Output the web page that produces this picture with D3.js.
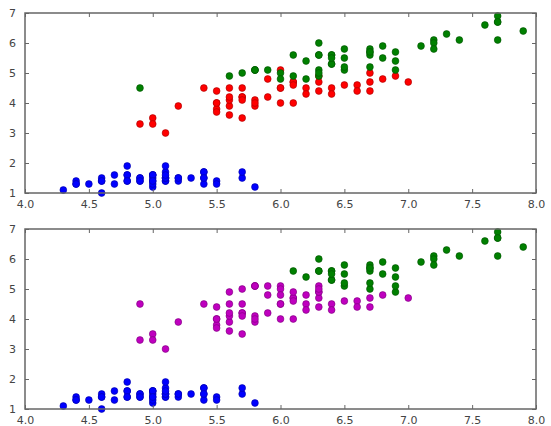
<!DOCTYPE html>
<html>
<head>
<meta charset="utf-8">
<script src="https://cdn.jsdelivr.net/npm/d3@7"></script>
<style>
  body { margin: 0; background: #fff; }
  svg { display: block; }
  .tick text { font-family: "DejaVu Sans", sans-serif; font-size: 11px; fill: #444; }
</style>
</head>
<body>
<svg width="551" height="426"></svg>
<script>
// iris: sepal length (x) vs petal length (y)
const sepalLength = [
  5.1,4.9,4.7,4.6,5.0,5.4,4.6,5.0,4.4,4.9,5.4,4.8,4.8,4.3,5.8,5.7,5.4,5.1,5.7,5.1,
  5.4,5.1,4.6,5.1,4.8,5.0,5.0,5.2,5.2,4.7,4.8,5.4,5.2,5.5,4.9,5.0,5.5,4.9,4.4,5.1,
  5.0,4.5,4.4,5.0,5.1,4.8,5.1,4.6,5.3,5.0,
  7.0,6.4,6.9,5.5,6.5,5.7,6.3,4.9,6.6,5.2,5.0,5.9,6.0,6.1,5.6,6.7,5.6,5.8,6.2,5.6,
  5.9,6.1,6.3,6.1,6.4,6.6,6.8,6.7,6.0,5.7,5.5,5.5,5.8,6.0,5.4,6.0,6.7,6.3,5.6,5.5,
  5.5,6.1,5.8,5.0,5.6,5.7,5.7,6.2,5.1,5.7,
  6.3,5.8,7.1,6.3,6.5,7.6,4.9,7.3,6.7,7.2,6.5,6.4,6.8,5.7,5.8,6.4,6.5,7.7,7.7,6.0,
  6.9,5.6,7.7,6.3,6.7,7.2,6.2,6.1,6.4,7.2,7.4,7.9,6.4,6.3,6.1,7.7,6.3,6.4,6.0,6.9,
  6.7,6.9,5.8,6.8,6.7,6.7,6.3,6.5,6.2,5.9
];
const petalLength = [
  1.4,1.4,1.3,1.5,1.4,1.7,1.4,1.5,1.4,1.5,1.5,1.6,1.4,1.1,1.2,1.5,1.3,1.4,1.7,1.5,
  1.7,1.5,1.0,1.7,1.9,1.6,1.6,1.5,1.4,1.6,1.6,1.5,1.5,1.4,1.5,1.2,1.3,1.4,1.3,1.5,
  1.3,1.3,1.3,1.6,1.9,1.4,1.6,1.4,1.5,1.4,
  4.7,4.5,4.9,4.0,4.6,4.5,4.7,3.3,4.6,3.9,3.5,4.2,4.0,4.7,3.6,4.4,4.5,4.1,4.5,3.9,
  4.8,4.0,4.9,4.7,4.3,4.4,4.8,5.0,4.5,3.5,3.8,3.7,3.9,5.1,4.5,4.5,4.7,4.4,4.1,4.0,
  4.4,4.6,4.0,3.3,4.2,4.2,4.2,4.3,3.0,4.1,
  6.0,5.1,5.9,5.6,5.8,6.6,4.5,6.3,5.8,6.1,5.1,5.3,5.5,5.0,5.1,5.3,5.5,6.7,6.9,5.0,
  5.7,4.9,6.7,4.9,5.7,6.0,4.8,4.9,5.6,5.8,6.1,6.4,5.6,5.1,5.6,6.1,5.6,5.5,4.8,5.4,
  5.6,5.1,5.1,5.9,5.7,5.2,5.0,5.2,5.4,5.1
];
// true species (top) and k-means cluster (bottom)
const species = [
  0,0,0,0,0,0,0,0,0,0,0,0,0,0,0,0,0,0,0,0,0,0,0,0,0,0,0,0,0,0,0,0,0,0,0,0,0,0,0,0,0,0,0,0,0,0,0,0,0,0,
  1,1,1,1,1,1,1,1,1,1,1,1,1,1,1,1,1,1,1,1,1,1,1,1,1,1,1,1,1,1,1,1,1,1,1,1,1,1,1,1,1,1,1,1,1,1,1,1,1,1,
  2,2,2,2,2,2,2,2,2,2,2,2,2,2,2,2,2,2,2,2,2,2,2,2,2,2,2,2,2,2,2,2,2,2,2,2,2,2,2,2,2,2,2,2,2,2,2,2,2,2
];
const cluster = [
  0,0,0,0,0,0,0,0,0,0,0,0,0,0,0,0,0,0,0,0,0,0,0,0,0,0,0,0,0,0,0,0,0,0,0,0,0,0,0,0,0,0,0,0,0,0,0,0,0,0,
  1,1,2,1,1,1,1,1,1,1,1,1,1,1,1,1,1,1,1,1,1,1,1,1,1,1,1,2,1,1,1,1,1,1,1,1,1,1,1,1,1,1,1,1,1,1,1,1,1,1,
  2,1,2,2,2,2,1,2,2,2,2,2,2,1,1,2,2,2,2,1,2,1,2,1,2,2,1,1,2,2,2,2,2,1,2,2,2,2,1,2,2,2,1,2,2,2,1,2,2,1
];
const topColors = ['#0000ff', '#ff0000', '#008000'];
const bottomColors = ['#0000ff', '#bf00bf', '#008000'];
const xTicks = [4.0, 4.5, 5.0, 5.5, 6.0, 6.5, 7.0, 7.5, 8.0];
const yTicks = [1, 2, 3, 4, 5, 6, 7];

const svg = d3.select('svg');
const rows = sepalLength.map((x, i) => ({ x, y: petalLength[i], species: species[i], cluster: cluster[i] }));

const renderPanel = (top, bottom, colorOf) => {
  const left = 25, right = 536;
  const xScale = d3.scaleLinear().domain([4, 8]).range([left, right]);
  const yScale = d3.scaleLinear().domain([1, 7]).range([bottom, top]);

  const g = svg.append('g').attr('class', 'panel');

  g.append('g')
    .attr('class', 'points')
    .selectAll('circle')
    .data(rows)
    .enter()
    .append('circle')
      .attr('cx', d => xScale(d.x))
      .attr('cy', d => yScale(d.y))
      .attr('r', 3.4)
      .attr('fill', colorOf)
      .attr('stroke', d => d3.color(colorOf(d)).darker(1.2))
      .attr('stroke-width', 0.6);

  // axes: ticks point inward on all four sides
  const xBottom = g.append('g')
    .attr('transform', `translate(0, ${bottom})`)
    .call(d3.axisBottom(xScale).tickValues(xTicks).tickFormat(d3.format('.1f')).tickSizeInner(-4).tickSizeOuter(0).tickPadding(7));
  const xTop = g.append('g')
    .attr('transform', `translate(0, ${top})`)
    .call(d3.axisTop(xScale).tickValues(xTicks).tickFormat('').tickSizeInner(-4).tickSizeOuter(0));
  const yLeft = g.append('g')
    .attr('transform', `translate(${left}, 0)`)
    .call(d3.axisLeft(yScale).tickValues(yTicks).tickFormat(d3.format('d')).tickSizeInner(-4).tickSizeOuter(0).tickPadding(9));
  const yRight = g.append('g')
    .attr('transform', `translate(${right}, 0)`)
    .call(d3.axisRight(yScale).tickValues(yTicks).tickFormat('').tickSizeInner(-4).tickSizeOuter(0));

  [xBottom, xTop, yLeft, yRight].forEach(a => {
    a.select('.domain').remove();
    a.selectAll('.tick line').attr('stroke', '#666');
  });

  g.append('rect')
    .attr('x', left)
    .attr('y', top)
    .attr('width', right - left)
    .attr('height', bottom - top)
    .attr('fill', 'none')
    .attr('stroke', '#666')
    .attr('stroke-width', 1.5);
};

renderPanel(13, 193, d => topColors[d.species]);
renderPanel(229, 409, d => bottomColors[d.cluster]);
</script>
</body>
</html>
